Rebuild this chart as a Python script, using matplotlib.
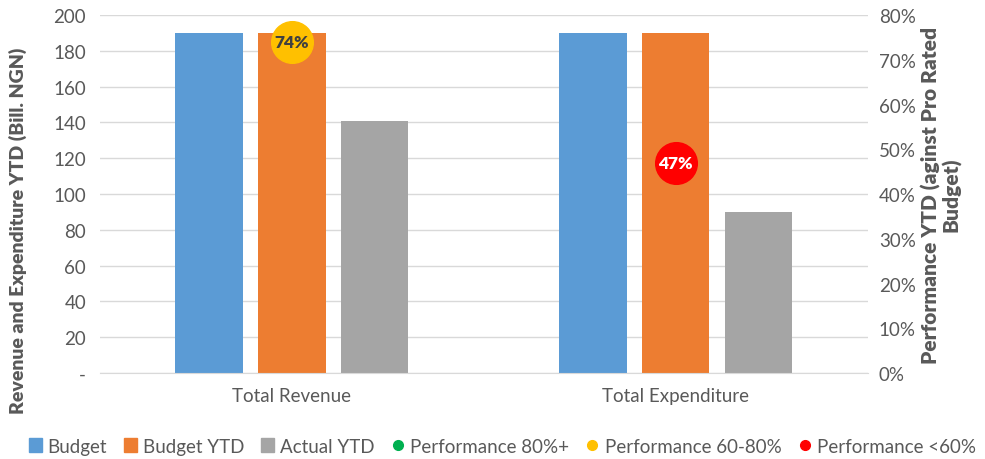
import numpy as np
import matplotlib.pyplot as plt
from matplotlib.lines import Line2D
from matplotlib.patches import Patch
from matplotlib.ticker import FuncFormatter, PercentFormatter

plt.rcParams['font.family'] = ['Lato', 'DejaVu Sans']

categories = ["Total Revenue", "Total Expenditure"]
budget = [190, 190]
budget_ytd = [190, 190]
actual_ytd = [141, 90]
performance = [74, 47]  # % against pro rated budget

blue = '#5b9bd5'
orange = '#ed7d31'
grey = '#a5a5a5'
green = '#00b050'
yellow = '#ffc000'
red = '#ff0000'
txt = '#595959'


def perf_colour(p):
    if p >= 80:
        return green
    if p >= 60:
        return yellow
    return red


fig = plt.figure(figsize=(9.85, 4.6), dpi=100)
ax = fig.add_axes([0.1015, 0.187, 0.7795, 0.778])
ax2 = ax.twinx()

x = np.arange(len(categories))
w = 0.175
step = 0.216
ax.bar(x - step, budget, w, color=blue, zorder=2)
ax.bar(x, budget_ytd, w, color=orange, zorder=2)
ax.bar(x + step, actual_ytd, w, color=grey, zorder=2)

ax.set_xlim(-0.5, 1.5)
ax.set_xticks(x)
ax.set_xticklabels(categories, fontsize=13.5, color=txt)
ax.set_ylim(0, 200)
ax.set_yticks(range(0, 201, 20))
ax.yaxis.set_major_formatter(FuncFormatter(lambda v, p: '-' if v == 0 else f'{v:.0f}'))
ax.tick_params(axis='y', labelsize=13.5, labelcolor=txt, length=0, pad=10)
ax.tick_params(axis='x', length=0, pad=10)
ax.grid(axis='y', color='#d9d9d9', linewidth=1, zorder=0)
for s in ['top', 'left', 'right']:
    ax.spines[s].set_visible(False)
ax.spines['bottom'].set_color('#d9d9d9')
ax.set_ylabel('Revenue and Expenditure YTD (Bill. NGN)', fontsize=14,
              fontweight='heavy', color=txt, labelpad=8)
ax.yaxis.set_label_coords(-0.095, 0.40)

ax2.set_ylim(0, 80)
ax2.set_yticks(range(0, 81, 10))
ax2.yaxis.set_major_formatter(PercentFormatter(decimals=0))
ax2.tick_params(axis='y', labelsize=13.5, labelcolor=txt, length=0, pad=8)
for s in ax2.spines.values():
    s.set_visible(False)
ax2.set_ylabel('Performance YTD (aginst Pro Rated\nBudget)', fontsize=15,
               fontweight='heavy', color=txt, labelpad=4, linespacing=1.0)

for xi, p in zip(x, performance):
    c = perf_colour(p)
    ax2.plot(xi, p, 'o', markersize=30, color=c, zorder=5)
    ax2.text(xi, p, f'{p}%', ha='center', va='center', fontsize=12.5,
             fontweight='heavy', color='white' if c == red else '#404040', zorder=6)

handles = [Patch(color=blue, label='Budget'),
           Patch(color=orange, label='Budget YTD'),
           Patch(color=grey, label='Actual YTD'),
           Line2D([], [], marker='o', ls='', color=green, markersize=7, label='Performance 80%+'),
           Line2D([], [], marker='o', ls='', color=yellow, markersize=7, label='Performance 60-80%'),
           Line2D([], [], marker='o', ls='', color=red, markersize=7, label='Performance <60%')]
leg = fig.legend(handles=handles, loc='center', bbox_to_anchor=(0.51, 0.028), ncol=6,
                 frameon=False, fontsize=13.5, handlelength=0.7, handleheight=0.7,
                 handletextpad=0.3, columnspacing=0.9)
for t in leg.get_texts():
    t.set_color(txt)

fig.savefig('out.png', dpi=100)
